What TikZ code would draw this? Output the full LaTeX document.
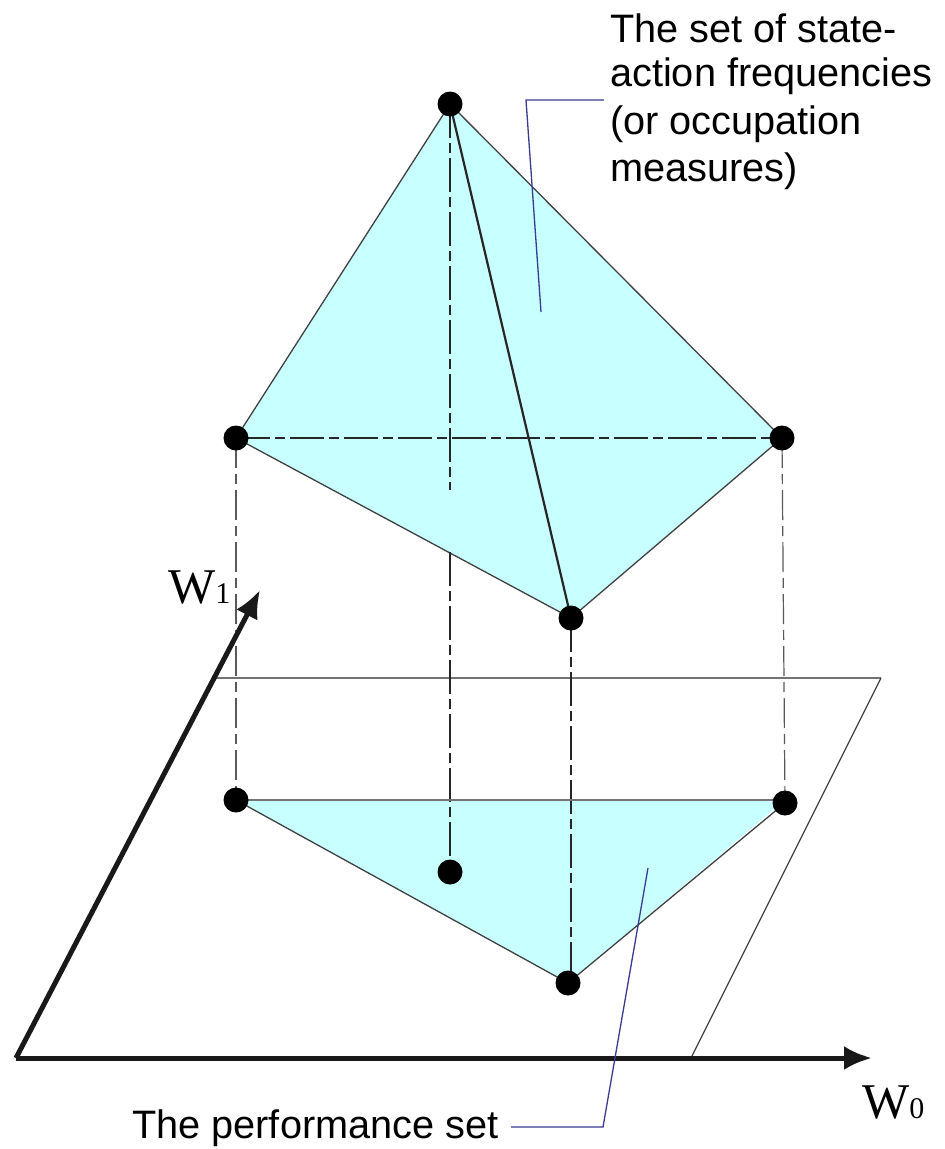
\documentclass[tikz,border=0pt]{standalone}
\usepackage{fontspec}
\setmainfont{Liberation Sans}
\newfontfamily\serifw{Liberation Serif}
\usetikzlibrary{arrows.meta}
\definecolor{facecyan}{HTML}{C8FFFF}
\definecolor{leader}{HTML}{3A3A90}
\tikzset{
  vertexdot/.style={circle,fill=black,inner sep=0pt,minimum size=25pt},
  faceedge/.style={draw=black!75,line width=1.3pt},
  planeedge/.style={draw=black!55,line width=1.8pt},
  hiddenline/.style={draw=black!85,line width=1.6pt,dash pattern=on 34pt off 5pt on 10pt off 5pt},
  projline/.style={draw=black!65,line width=1.2pt,dash pattern=on 30pt off 6pt on 10pt off 6pt},
  leaderline/.style={draw=leader,line width=1.3pt},
  axisline/.style={draw=black!90,line width=5pt,-{Latex[length=28pt,width=24pt]}},
  lab/.style={inner sep=0pt,font=\fontsize{39.7}{47}\selectfont},
  axislab/.style={inner sep=0pt,font=\serifw\fontsize{50}{50}\selectfont}
}
\begin{document}
\begin{tikzpicture}[x=1pt,y=-1pt]
\useasboundingbox (0,0) rectangle (945,1149);
% vertex positions
\coordinate (TA) at (450,104);
\coordinate (LA) at (236,438);
\coordinate (RA) at (782,438);
\coordinate (FA) at (571,618);
\coordinate (LB) at (236,800);
\coordinate (RB) at (785,803);
\coordinate (RC) at (785,800);
\coordinate (FB) at (568,983);
\coordinate (FC) at (571,975);
\coordinate (MB) at (450,872);
% filled faces
\path[fill=facecyan] (TA) -- (RA) -- (FA) -- (LA) -- cycle;
\path[fill=facecyan] (LB) -- (RC) -- (FB) -- cycle;
% plane
\coordinate (PA) at (216,678);
\coordinate (PB) at (881,678);
\coordinate (PC) at (691,1058);
\draw[planeedge] (PA) -- (PB);
\draw[faceedge] (PB) -- (PC);
% upper solid edges
\draw[faceedge] (LA) -- (TA) -- (RA) -- (FA) -- (LA);
\draw[line width=2.2pt,black!85] (TA) -- (FA);
% hidden edges
\draw[hiddenline] (LA) -- (RA);
\coordinate (HA) at (450,490);
\coordinate (HB) at (450,552);
\draw[hiddenline] (TA) -- (HA);
\draw[hiddenline] (HB) -- (MB);
\draw[hiddenline] (FA) -- (FC);
\draw[projline] (LA) -- (LB);
\draw[projline] (RA) -- (RB);
% lower edges
\draw[planeedge] (LB) -- (RC);
\draw[faceedge] (RB) -- (FB) -- (LB);
% axes
\coordinate (O) at (16,1058);
\coordinate (WA) at (260,590);
\coordinate (WB) at (872,1058);
\draw[axisline] (O) -- (WA);
\draw[axisline] (O) -- (WB);
% dots
\node[vertexdot] (tA) at (TA) {};
\node[vertexdot] (lA) at (LA) {};
\node[vertexdot] (rA) at (RA) {};
\node[vertexdot] (fA) at (FA) {};
\node[vertexdot] (lB) at (LB) {};
\node[vertexdot] (rB) at (RB) {};
\node[vertexdot] (fB) at (FB) {};
\node[vertexdot] (mB) at (MB) {};
% labels
\node[lab,anchor=west] (l1) at (610,28) {The set of state-};
\node[lab,anchor=west] (l2) at (610,76) {action frequencies};
\node[lab,anchor=west] (l3) at (610,124) {(or occupation};
\node[lab,anchor=west] (l4) at (610,171) {measures)};
\node[lab,anchor=west] (l5) at (132,1128) {The performance set};
\node[axislab,anchor=base west] (w1) at (168,603) {W\fontsize{30}{30}\selectfont 1};
\node[axislab,anchor=base west] (w0) at (862,1118) {W\fontsize{30}{30}\selectfont 0};
% leaders
\coordinate (LU) at (541,312);
\coordinate (LUB) at (526,100);
\coordinate (LUE) at (604,100);
\draw[leaderline] (LUE) -- (LUB) -- (LU);
\coordinate (LD) at (648,868);
\coordinate (LDB) at (603,1127);
\coordinate (LDE) at (511,1127);
\draw[leaderline] (LD) -- (LDB) -- (LDE);
\end{tikzpicture}
\end{document}
